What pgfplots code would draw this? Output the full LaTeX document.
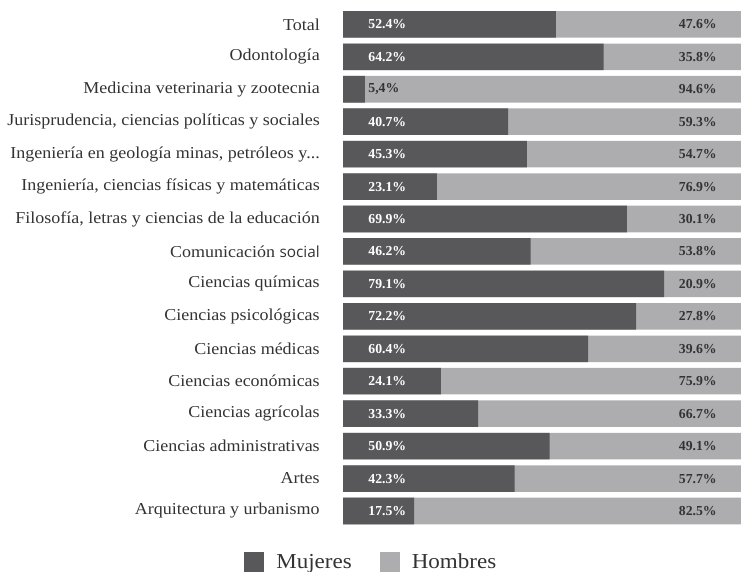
\documentclass[border=0pt]{standalone}
\usepackage{pgfplots}
\pgfplotsset{compat=1.18}
\usepackage{pgfplotstable}
\usepackage{fontspec}
\setmainfont{Liberation Serif}
\newfontfamily\catfont[FakeStretch=1.08]{Liberation Serif}
\newfontfamily\sansf{Open Sans}
\definecolor{muj}{HTML}{58585A}
\definecolor{hom}{HTML}{ADADB0}
\definecolor{lbl}{HTML}{333333}
\pgfplotstableread{
y  m     h     ml    hl
15 52.4  47.6  52.4  47.6
14 64.2  35.8  64.2  35.8
13 5.4   94.6  5,4   94.6
12 40.7  59.3  40.7  59.3
11 45.3  54.7  45.3  54.7
10 23.1  76.9  23.1  76.9
9  69.9  30.1  69.9  30.1
8  46.2  53.8  46.2  53.8
7  79.1  20.9  79.1  20.9
6  72.2  27.8  72.2  27.8
5  60.4  39.6  60.4  39.6
4  24.1  75.9  24.1  75.9
3  33.3  66.7  33.3  66.7
2  50.9  49.1  50.9  49.1
1  42.3  57.7  42.3  57.7
0  17.5  82.5  17.5  82.5
}\data
\begin{document}
\begin{tikzpicture}
\begin{axis}[
  at={(257.25pt,-395.4pt)}, anchor=south west,
  scale only axis, width=304.5pt, height=389.3pt,
  xmin=0, xmax=100, ymin=-0.5, ymax=15.5,
  xtick=\empty,
  ytick={0,1,2,3,4,5,6,7,8,9,10,11,12,13,14,15},
  yticklabels={Arquitectura y urbanismo, Artes, Ciencias administrativas, Ciencias agrícolas, Ciencias económicas, Ciencias médicas, Ciencias psicológicas, Ciencias químicas, {Comunicación {\sansf\fontsize{11.5}{13}\selectfont social}}, {Filosofía, letras y ciencias de la educación}, {Ingeniería, ciencias físicas y matemáticas}, {Ingeniería en geología minas, petróleos y.{}.{}.}, {Jurisprudencia, ciencias políticas y sociales}, Medicina veterinaria y zootecnia, Odontología, Total},
  yticklabel style={anchor=east, inner sep=0pt, xshift=-17.25pt, text=lbl, font=\catfont\fontsize{12.5}{14}\selectfont},
  axis line style={draw=none},
  tick style={draw=none},
  legend columns=2,
  legend image code/.code={\fill[#1] (0pt,-7.5pt) rectangle (15pt,7.5pt);},
  legend style={at={(-0.2438,-0.067)}, anchor=west, draw=none, fill=none, inner sep=0pt,
    font=\catfont\fontsize{16}{18}\selectfont, text=lbl,
    /tikz/every odd column/.append style={column sep=7pt},
    /tikz/every even column/.append style={column sep=19pt}},
]
\addlegendimage{fill=muj, draw=none}\addlegendentry{Mujeres}
\addlegendimage{fill=hom, draw=none}\addlegendentry{Hombres}
\addplot[xbar, bar shift=0pt, bar width=19.9pt, fill=hom, draw=none, forget plot] table[y=y, x expr=100]{\data};
\addplot[xbar, bar shift=0pt, bar width=19.9pt, fill=muj, draw=none, forget plot] table[x=m, y=y]{\data};
\addplot[draw=none, mark=none, forget plot, point meta=explicit symbolic,
  skip coords between index={2}{3},
  nodes near coords={\pgfplotspointmeta\%},
  nodes near coords style={anchor=west, inner sep=0pt, text=white, font=\bfseries\fontsize{10.3}{12}\selectfont}]
  table[x expr=6.2, y=y, meta=ml]{\data};
\addplot[draw=none, mark=none, forget plot, point meta=explicit symbolic,
  restrict y to domain=12.5:13.5,
  nodes near coords={\pgfplotspointmeta\%},
  nodes near coords style={anchor=west, inner sep=0pt, text=lbl, font=\bfseries\fontsize{10.3}{12}\selectfont}]
  table[x expr=6.2, y=y, meta=ml]{\data};
\addplot[draw=none, mark=none, forget plot, point meta=explicit symbolic,
  nodes near coords={\pgfplotspointmeta\%},
  nodes near coords style={anchor=east, inner sep=0pt, text=lbl, font=\bfseries\fontsize{10.3}{12}\selectfont}]
  table[x expr=92.1, y=y, meta=hl]{\data};
\end{axis}
\pgfresetboundingbox
\useasboundingbox (0,0) rectangle (555.75pt,-428.25pt);
\end{tikzpicture}
\end{document}
